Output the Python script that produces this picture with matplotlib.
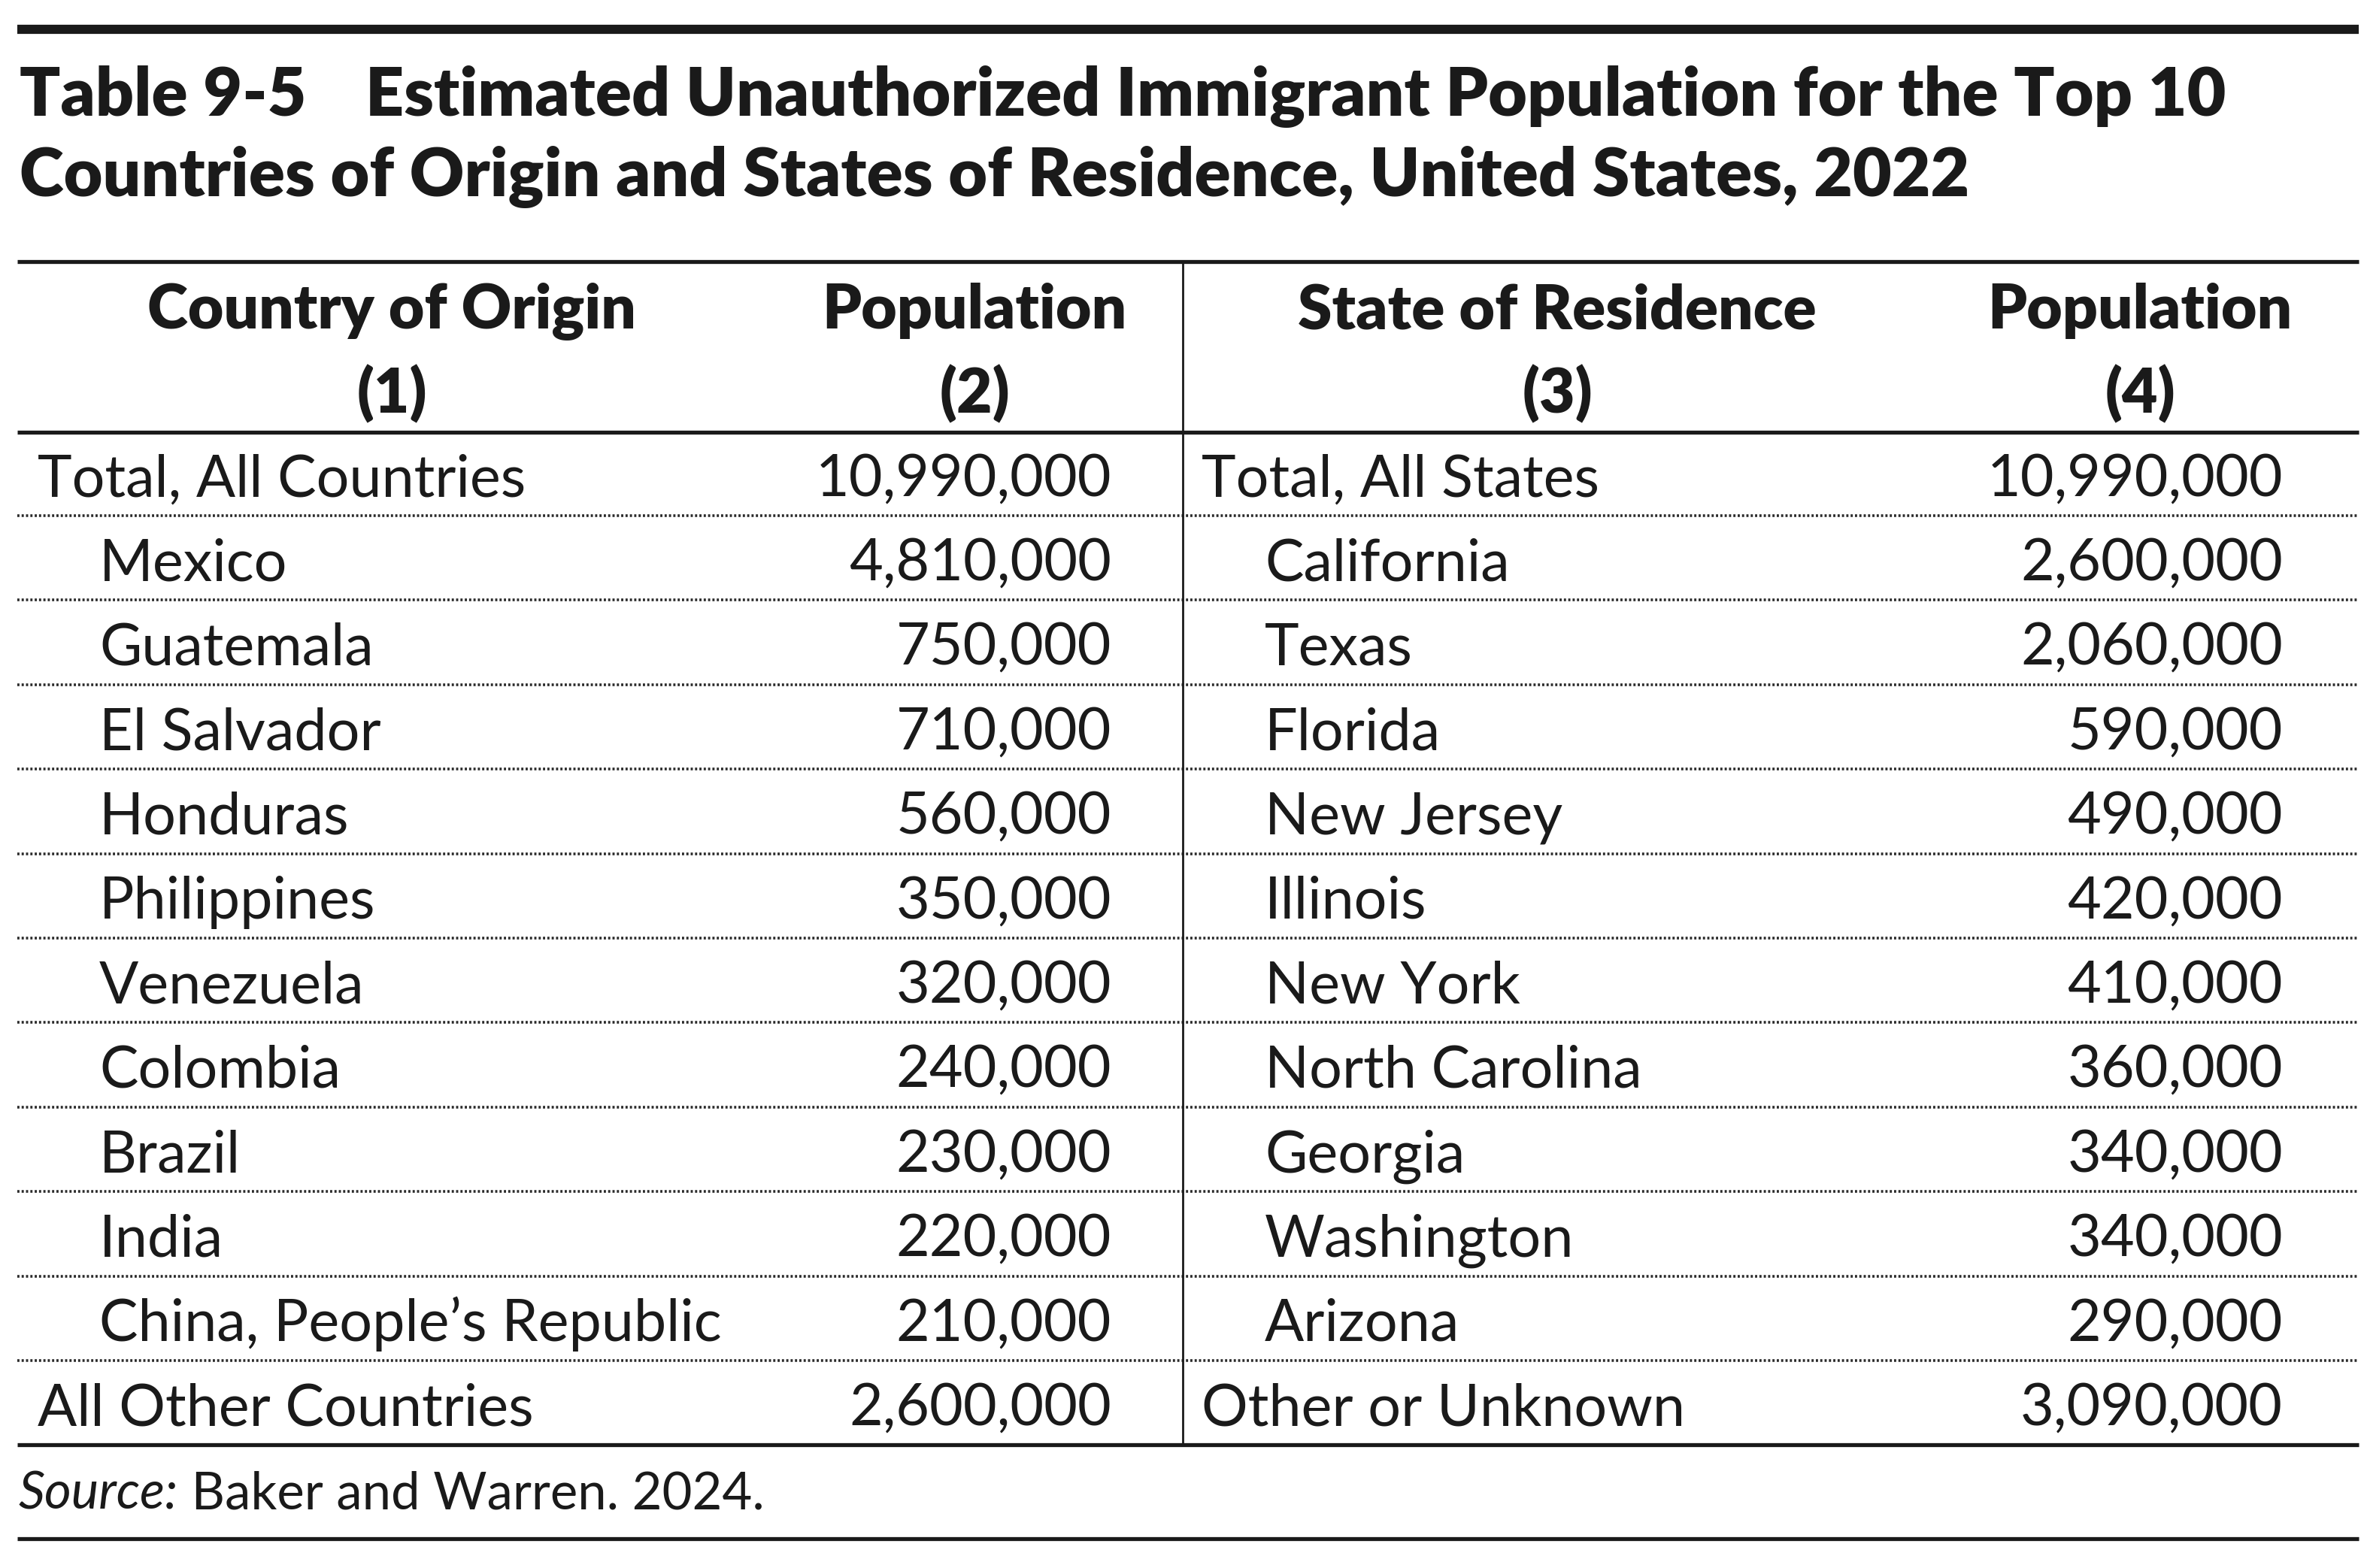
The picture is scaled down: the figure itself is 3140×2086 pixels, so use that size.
import matplotlib.pyplot as plt
from matplotlib.lines import Line2D

# ---------------- data ----------------
countries = ["Mexico", "Guatemala", "El Salvador", "Honduras", "Philippines",
             "Venezuela", "Colombia", "Brazil", "India", "China, People\u2019s Republic"]
country_pop = [4810000, 750000, 710000, 560000, 350000,
               320000, 240000, 230000, 220000, 210000]
states = ["California", "Texas", "Florida", "New Jersey", "Illinois",
          "New York", "North Carolina", "Georgia", "Washington", "Arizona"]
state_pop = [2600000, 2060000, 590000, 490000, 420000,
             410000, 360000, 340000, 340000, 290000]

total_countries = ("Total, All Countries", 10990000)
other_countries = ("All Other Countries", 2600000)
total_states = ("Total, All States", 10990000)
other_states = ("Other or Unknown", 3090000)

col_headers = ["Country of Origin", "Population", "State of Residence", "Population"]
col_numbers = ["(1)", "(2)", "(3)", "(4)"]

title_tag = "Table 9-5"
title_line1 = "Estimated Unauthorized Immigrant Population for the Top 10"
title_line2 = "Countries of Origin and States of Residence, United States, 2022"
source_label = "Source:"
source_text = " Baker and Warren. 2024."

# ---------------- layout (pixel space) ----------------
W, H = 3140, 2086
INK = "#1a1a1a"
FONT = "Lato"
BODY = 27.8
HEAD = 29.5
TITLE = 32.2
SRC = 24.8
HEAVY = 800

X_L, X_R = 23, 3137
X_DIV = 1573
col1_x, col1_ind = 50, 132
col2_r = 1478
col3_x, col3_ind = 1598, 1682
col4_r = 3036
head_cx = [521, 1296, 2071, 2846]

row0_base = 660
row_step = 112.4

fig = plt.figure(figsize=(W / 200, H / 200), dpi=200)
ax = fig.add_axes([0, 0, 1, 1])
ax.set_xlim(0, W)
ax.set_ylim(H, 0)
ax.axis('off')


def hline(y, lw, ls='-', color=INK):
    ax.add_line(Line2D([X_L, X_R], [y, y], color=color, lw=lw, ls=ls,
                       solid_capstyle='butt', dash_capstyle='butt'))


# title
hline(39, 4.4)
ax.text(26, 154, title_tag, fontsize=TITLE, fontweight=HEAVY, family=FONT,
        color=INK, va='baseline', ha='left')
ax.text(486, 154, title_line1, fontsize=TITLE, fontweight=HEAVY, family=FONT,
        color=INK, va='baseline', ha='left')
ax.text(26, 261, title_line2, fontsize=TITLE, fontweight=HEAVY, family=FONT,
        color=INK, va='baseline', ha='left')

# header
hline(348, 1.9)
for cx, h, n in zip(head_cx, col_headers, col_numbers):
    ax.text(cx, 437, h, fontsize=HEAD, fontweight=HEAVY, family=FONT,
            color=INK, va='baseline', ha='center')
    ax.text(cx, 549, n, fontsize=HEAD, fontweight=HEAVY, family=FONT,
            color=INK, va='baseline', ha='center')
hline(575, 1.9)

# body rows
left_rows = [(total_countries[0], total_countries[1], False)] + \
    [(c, v, True) for c, v in zip(countries, country_pop)] + \
    [(other_countries[0], other_countries[1], False)]
right_rows = [(total_states[0], total_states[1], False)] + \
    [(s, v, True) for s, v in zip(states, state_pop)] + \
    [(other_states[0], other_states[1], False)]

n_rows = len(left_rows)
for i, ((lname, lval, lind), (rname, rval, rind)) in enumerate(zip(left_rows, right_rows)):
    yb = row0_base + i * row_step
    ax.text(col1_ind if lind else col1_x, yb, lname, fontsize=BODY, family=FONT,
            color=INK, va='baseline', ha='left')
    ax.text(col2_r, yb, f"{lval:,}", fontsize=BODY, family=FONT,
            color=INK, va='baseline', ha='right')
    ax.text(col3_ind if rind else col3_x, yb, rname, fontsize=BODY, family=FONT,
            color=INK, va='baseline', ha='left')
    ax.text(col4_r, yb, f"{rval:,}", fontsize=BODY, family=FONT,
            color=INK, va='baseline', ha='right')
    if i < n_rows - 1:
        hline(yb + 26, 1.3, ls=(0, (0.8, 0.8)), color="#2a2a2a")

bottom_y = row0_base + (n_rows - 1) * row_step + 26
hline(bottom_y, 1.9)
ax.add_line(Line2D([X_DIV, X_DIV], [348, bottom_y], color=INK, lw=1.0))

# source
t = ax.text(25, 2008, source_label, fontsize=SRC, family=FONT, style='italic',
            color=INK, va='baseline', ha='left')
fig.canvas.draw()
bb = t.get_window_extent()
x_end = ax.transData.inverted().transform((bb.x1, bb.y0))[0]
ax.text(x_end, 2008, source_text, fontsize=SRC, family=FONT,
        color=INK, va='baseline', ha='left')
hline(2047, 1.9)

fig.savefig("out.png", dpi=200, facecolor='white')
